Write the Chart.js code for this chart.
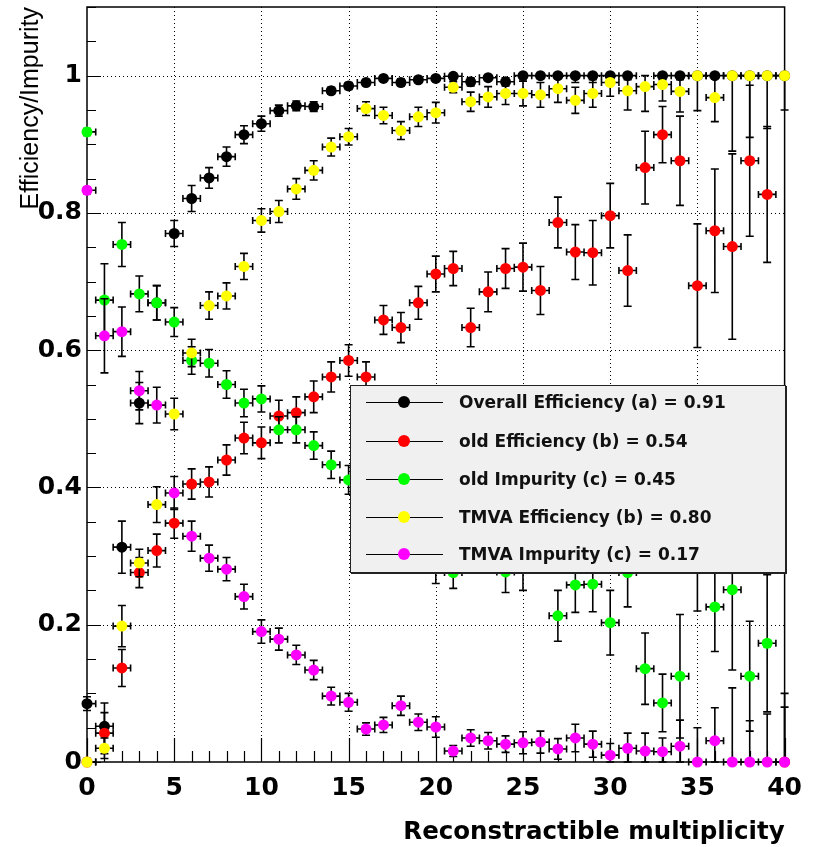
<!DOCTYPE html>
<html>
<head>
<meta charset="utf-8">
<title>Efficiency/Impurity vs Reconstractible multiplicity</title>
<script src="https://cdn.jsdelivr.net/npm/chart.js@4.4.1/dist/chart.umd.min.js"></script>
<style>
    html, body { margin: 0; padding: 0; background: #fff; }
    #wrap { position: relative; width: 813px; height: 847px; }
    #legendBox {
        position: absolute; left: 350px; top: 385px; width: 434px; height: 186px;
        background: #f0f0f0; border: 1px solid #222; box-shadow: 1px 1px 0 #222;
        font: bold 17px "DejaVu Sans", sans-serif; color: #111;
    }
    .row { position: absolute; left: 0; width: 100%; height: 20px; }
    .row .ln { position: absolute; left: 15px; width: 77px; top: 10px; height: 1px; background: #000; }
    .row .mk { position: absolute; left: 47px; top: 4px; width: 12px; height: 12px; border-radius: 50%; }
    .row .tx { position: absolute; left: 108px; top: 0; line-height: 20px; white-space: nowrap; }
</style>
</head>
<body>
<div id="wrap">
    <canvas id="effChart" width="813" height="847"></canvas>
    <div id="legendBox"></div>
</div>
<script>
// bin centres (reconstructible multiplicity)
const multiplicity = [0, 1, 2, 3, 4, 5, 6, 7, 8, 9, 10, 11, 12, 13, 14, 15, 16, 17, 18, 19, 20,
    21, 22, 23, 24, 25, 26, 27, 28, 29, 30, 31, 32, 33, 34, 35, 36, 37, 38, 39, 40];

const overallEff = [0.085, 0.052, 0.313, 0.523, 0.669, 0.770, 0.821, 0.851, 0.882, 0.914, 0.930,
    0.949, 0.956, 0.955, 0.978, 0.985, 0.990, 0.996, 0.990, 0.994, 0.996,
    0.999, 0.991, 0.997, 0.991, 1.0, 1.0, 1.0, 1.0, 1.0, 1.0,
    1.0, null, 1.0, 1.0, 1.0, 1.0, 1.0, 1.0, 1.0, 1.0];
const overallEffErr = [0.01, 0.034, 0.038, 0.03, 0.025, 0.019, 0.019, 0.015, 0.014, 0.013, 0.011,
    0.008, 0.007, 0.007, 0.005, 0.005, 0.004, 0.003, 0.005, 0.004, 0.003,
    0.002, 0.006, 0.003, 0.006, 0.004, 0.004, 0.004, 0.01, 0.01, 0.006,
    0.006, 0, 0.006, 0.006, 0, 0, 0, 0, 0, 0];

const oldEff = [0, 0.042, 0.137, 0.276, 0.308, 0.348, 0.405, 0.408, 0.440, 0.472, 0.465,
    0.504, 0.509, 0.532, 0.561, 0.585, 0.561, 0.644, 0.633, 0.669, 0.711,
    0.719, 0.633, 0.685, 0.719, 0.721, 0.687, 0.786, 0.743, 0.742, 0.796,
    0.716, 0.866, 0.914, 0.876, 0.694, 0.774, 0.751, 0.876, 0.827, 0];
const oldEffErr = [0.005, 0.03, 0.027, 0.022, 0.024, 0.022, 0.022, 0.022, 0.022, 0.023, 0.023,
    0.023, 0.023, 0.023, 0.022, 0.023, 0.022, 0.021, 0.022, 0.024, 0.026,
    0.025, 0.028, 0.029, 0.029, 0.035, 0.035, 0.037, 0.04, 0.047, 0.047,
    0.052, 0.053, 0.041, 0.065, 0.09, 0.09, 0.135, 0.11, 0.099, 0.1];

const oldImp = [0.918, 0.673, 0.754, 0.682, 0.669, 0.641, 0.585, 0.581, 0.550, 0.523, 0.529,
    0.484, 0.484, 0.461, 0.433, 0.411, 0.39, 0.37, 0.36, 0.34, 0.30,
    0.276, 0.34, 0.33, 0.277, 0.29, 0.33, 0.213, 0.258, 0.259, 0.203,
    0.276, 0.136, 0.086, 0.125, 0.33, 0.226, 0.251, 0.125, 0.173, null];
const oldImpErr = [0.005, 0.053, 0.032, 0.026, 0.025, 0.021, 0.02, 0.02, 0.02, 0.02, 0.019,
    0.019, 0.019, 0.02, 0.02, 0.021, 0.022, 0.024, 0.025, 0.027, 0.04,
    0.023, 0.03, 0.03, 0.03, 0.04, 0.03, 0.037, 0.04, 0.04, 0.047,
    0.05, 0.052, 0.042, 0.09, 0.11, 0.065, 0.117, 0.08, 0.1, 0];

const tmvaEff = [0, 0.020, 0.198, 0.290, 0.375, 0.507, 0.596, 0.665, 0.679, 0.722, 0.789,
    0.802, 0.835, 0.862, 0.896, 0.911, 0.952, 0.942, 0.920, 0.940, 0.946,
    0.983, 0.962, 0.969, 0.974, 0.974, 0.972, 0.981, 0.964, 0.974, 0.990,
    0.978, 0.984, 0.987, 0.977, 1.0, 0.968, 1.0, 1.0, 1.0, 1.0];
const tmvaEffErr = [0, 0.015, 0.03, 0.02, 0.026, 0.023, 0.02, 0.02, 0.019, 0.019, 0.017,
    0.016, 0.015, 0.014, 0.013, 0.012, 0.01, 0.012, 0.013, 0.014, 0.015,
    0.008, 0.014, 0.015, 0.016, 0.018, 0.018, 0.02, 0.019, 0.02, 0.02,
    0.028, 0.036, 0.024, 0.03, 0.051, 0.035, 0.11, 0.09, 0.077, 0.05];

const tmvaImp = [0.833, 0.621, 0.627, 0.541, 0.520, 0.392, 0.329, 0.297, 0.281, 0.241, 0.190,
    0.179, 0.156, 0.134, 0.096, 0.087, 0.048, 0.054, 0.082, 0.058, 0.051,
    0.016, 0.035, 0.031, 0.026, 0.028, 0.029, 0.019, 0.035, 0.026, 0.010,
    0.020, 0.016, 0.015, 0.023, 0, 0.031, 0, 0, 0, 0];
const tmvaImpErr = [0.005, 0.054, 0.036, 0.028, 0.026, 0.024, 0.022, 0.019, 0.017, 0.018, 0.017,
    0.016, 0.014, 0.014, 0.013, 0.013, 0.009, 0.011, 0.014, 0.012, 0.015,
    0.008, 0.012, 0.012, 0.012, 0.016, 0.016, 0.015, 0.02, 0.019, 0.017,
    0.022, 0.026, 0.02, 0.038, 0.05, 0.048, 0.108, 0.06, 0.07, 0.08];

const seriesNames = ['Overall Efficiency (a) = 0.91', 'old Efficiency (b) = 0.54', 'old Impurity (c) = 0.45',
    'TMVA Efficiency (b) = 0.80', 'TMVA Impurity (c) = 0.17'];
const seriesColors = ['#000000', '#ff0000', '#00ff00', '#ffff00', '#ff00ff'];
const seriesValues = [overallEff, oldEff, oldImp, tmvaEff, tmvaImp];
const seriesErrors = [overallEffErr, oldEffErr, oldImpErr, tmvaEffErr, tmvaImpErr];

const xTickValues = [0, 5, 10, 15, 20, 25, 30, 35, 40];
const yTickValues = [0, 0.2, 0.4, 0.6, 0.8, 1];
const binHalfWidth = 0.5;

// dotted grid, frame and inward ROOT-style ticks
const rootFrame = {
    id: 'rootFrame',
    beforeDatasetsDraw: function (chart) {
        const ctx = chart.ctx;
        const a = chart.chartArea;
        const xs = chart.scales.x;
        const ys = chart.scales.y;
        ctx.save();
        ctx.strokeStyle = '#000';
        ctx.lineWidth = 1;
        ctx.setLineDash([1, 3]);
        ctx.beginPath();
        xTickValues.forEach(function (v) {
            if (v <= xs.min || v >= xs.max) return;
            const px = Math.round(xs.getPixelForValue(v)) + 0.5;
            ctx.moveTo(px, a.top);
            ctx.lineTo(px, a.bottom);
        });
        yTickValues.forEach(function (v) {
            if (v <= ys.min || v >= ys.max) return;
            const py = Math.round(ys.getPixelForValue(v)) + 0.5;
            ctx.moveTo(a.left, py);
            ctx.lineTo(a.right, py);
        });
        ctx.stroke();
        ctx.setLineDash([]);

        ctx.lineWidth = 1.5;
        ctx.strokeRect(a.left, a.top, a.right - a.left, a.bottom - a.top);

        ctx.lineWidth = 1.2;
        ctx.beginPath();
        for (let i = xs.min; i <= xs.max; i++) {
            const px = Math.round(xs.getPixelForValue(i)) + 0.5;
            const len = i % 5 === 0 ? 24 : 11;
            ctx.moveTo(px, a.bottom);
            ctx.lineTo(px, a.bottom - len);
        }
        for (let k = 0; k * 0.05 <= ys.max + 1e-9; k++) {
            const py = Math.round(ys.getPixelForValue(k * 0.05)) + 0.5;
            const len = k % 4 === 0 ? 14 : 9;
            ctx.moveTo(a.left, py);
            ctx.lineTo(a.left + len, py);
        }
        ctx.stroke();
        ctx.restore();
    }
};

// x (bin width) and y error bars, drawn just before each graph's markers
const errorBars = {
    id: 'errorBars',
    beforeDatasetDraw: function (chart, args) {
        const ds = chart.data.datasets[args.index];
        if (!ds.errors) return;
        const ctx = chart.ctx;
        const xs = chart.scales.x;
        const ys = chart.scales.y;
        ctx.save();
        ctx.strokeStyle = '#000';
        ctx.lineWidth = 1.6;
        ctx.beginPath();
        ds.data.forEach(function (pt, i) {
            if (pt.y === null) return;
            const px = xs.getPixelForValue(pt.x);
            const py = ys.getPixelForValue(pt.y);
            const lo = Math.max(pt.x - binHalfWidth, xs.min);
            const hi = Math.min(pt.x + binHalfWidth, xs.max);
            const pl = xs.getPixelForValue(lo);
            const pr = xs.getPixelForValue(hi);
            ctx.moveTo(pl, py);
            ctx.lineTo(pr, py);
            if (lo === pt.x - binHalfWidth) { ctx.moveTo(pl, py - 3.5); ctx.lineTo(pl, py + 3.5); }
            if (hi === pt.x + binHalfWidth) { ctx.moveTo(pr, py - 3.5); ctx.lineTo(pr, py + 3.5); }
            const e = ds.errors[i];
            if (e > 0) {
                const top = ys.getPixelForValue(Math.min(pt.y + e, 1));
                const bot = ys.getPixelForValue(Math.max(pt.y - e, 0));
                ctx.moveTo(px, top);
                ctx.lineTo(px, bot);
                if (top < py - 1) { ctx.moveTo(px - 4, top); ctx.lineTo(px + 4, top); }
                if (bot > py + 1) { ctx.moveTo(px - 4, bot); ctx.lineTo(px + 4, bot); }
            }
        });
        ctx.stroke();
        ctx.restore();
    }
};

function buildLegend() {
    const box = document.getElementById('legendBox');
    const rowCentres = [16, 55, 93, 131, 168];
    seriesNames.forEach(function (name, i) {
        const row = document.createElement('div');
        row.className = 'row';
        row.style.top = (rowCentres[i] - 10) + 'px';
        row.innerHTML = '<span class="ln"></span><span class="mk" style="background:' + seriesColors[i] +
            '"></span><span class="tx"></span>';
        row.querySelector('.tx').textContent = name;
        box.appendChild(row);
    });
}

document.addEventListener('DOMContentLoaded', function () {
    const ctx = document.getElementById('effChart');
    const datasets = seriesNames.map(function (name, i) {
        return {
            label: name,
            data: multiplicity.map(function (m, j) { return { x: m, y: seriesValues[i][j] }; }),
            errors: seriesErrors[i],
            showLine: false,
            pointStyle: 'circle',
            pointRadius: 5.5,
            pointBorderWidth: 0,
            pointBackgroundColor: seriesColors[i],
            pointBorderColor: seriesColors[i],
            order: seriesNames.length - i,
            clip: false
        };
    });

    new Chart(ctx, {
        type: 'line',
        data: { datasets: datasets },
        plugins: [rootFrame, errorBars],
        options: {
            responsive: false,
            animation: false,
            layout: { padding: { top: 7, right: 26, left: 0, bottom: 0 } },
            plugins: {
                legend: { display: false },
                tooltip: { enabled: false }
            },
            scales: {
                x: {
                    type: 'linear',
                    min: 0,
                    max: 40,
                    afterFit: function (scale) { scale.height = 85; },
                    afterBuildTicks: function (scale) {
                        scale.ticks = xTickValues.map(function (v) { return { value: v }; });
                    },
                    grid: { display: false, drawTicks: false },
                    border: { display: false },
                    ticks: {
                        autoSkip: false,
                        maxRotation: 0,
                        padding: 11,
                        color: '#000',
                        font: { family: 'DejaVu Sans', weight: 'bold', size: 25 },
                        callback: function (v) { return String(v); }
                    },
                    title: {
                        display: true,
                        text: 'Reconstractible multiplicity',
                        align: 'end',
                        color: '#000',
                        padding: { top: 0, bottom: 0 },
                        font: { family: 'DejaVu Sans', weight: 'bold', size: 24.5 }
                    }
                },
                y: {
                    type: 'linear',
                    min: 0,
                    max: 1.1,
                    afterFit: function (scale) {
                        scale.width = 87;
                        scale.paddingTop = 0;
                        scale.paddingBottom = 0;
                    },
                    afterBuildTicks: function (scale) {
                        scale.ticks = yTickValues.map(function (v) { return { value: v }; });
                    },
                    grid: { display: false, drawTicks: false },
                    border: { display: false },
                    ticks: {
                        autoSkip: false,
                        padding: 5,
                        color: '#000',
                        font: { family: 'DejaVu Sans', weight: 'bold', size: 25 },
                        callback: function (v) { return String(Math.round(v * 10) / 10); }
                    },
                    title: {
                        display: true,
                        text: 'Efficiency/Impurity',
                        align: 'end',
                        color: '#000',
                        padding: { top: 16, bottom: 0 },
                        font: { family: 'Liberation Sans', size: 25 }
                    }
                }
            }
        }
    });
    buildLegend();
});
</script>
</body>
</html>
